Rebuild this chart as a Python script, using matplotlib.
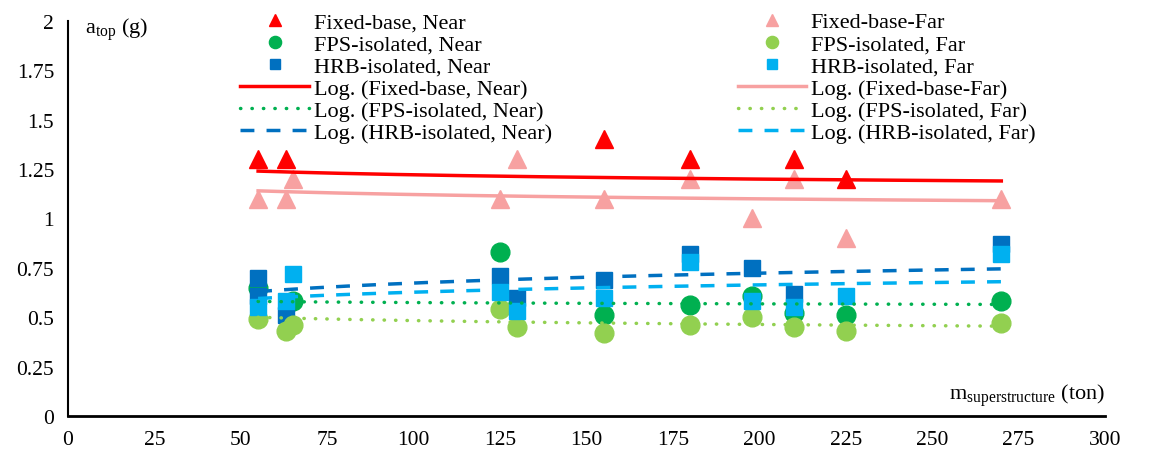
import numpy as np
import matplotlib
matplotlib.use("Agg")
import matplotlib.pyplot as plt

# --- data ---
mass_fixed_near = [55, 63, 155, 180, 210, 225]
acc_fixed_near = [1.30, 1.30, 1.40, 1.30, 1.30, 1.20]

mass_fps_near = [55, 65, 125, 155, 180, 198, 210, 225, 270]
acc_fps_near = [0.65, 0.58, 0.83, 0.51, 0.56, 0.61, 0.52, 0.51, 0.58]

mass_hrb_near = [55, 55, 63, 125, 130, 155, 180, 198, 210, 270]
acc_hrb_near = [0.70, 0.61, 0.51, 0.71, 0.60, 0.69, 0.82, 0.75, 0.62, 0.87]

mass_fixed_far = [55, 63, 65, 125, 130, 155, 180, 198, 210, 225, 270]
acc_fixed_far = [1.10, 1.10, 1.20, 1.10, 1.30, 1.10, 1.20, 1.00, 1.20, 0.90, 1.10]

mass_fps_far = [55, 63, 65, 125, 130, 155, 180, 198, 210, 225, 270]
acc_fps_far = [0.49, 0.43, 0.46, 0.54, 0.45, 0.42, 0.46, 0.50, 0.45, 0.43, 0.47]

mass_hrb_far = [55, 63, 65, 125, 130, 155, 180, 198, 210, 225, 270]
acc_hrb_far = [0.55, 0.58, 0.72, 0.63, 0.53, 0.60, 0.78, 0.58, 0.55, 0.61, 0.82]

# log trendlines: value at start mass and end mass
trend_start = 55
trend_end = 270
trend_fixed_near = [1.24, 1.19]
trend_fps_near = [0.58, 0.565]
trend_hrb_near = [0.63, 0.745]
trend_fixed_far = [1.14, 1.09]
trend_fps_far = [0.50, 0.455]
trend_hrb_far = [0.595, 0.68]

# colours (Excel palette)
c_red = "#ff0000"
c_pink = "#f7a1a1"
c_green = "#00b050"
c_lgreen = "#92d050"
c_blue = "#0070c0"
c_lblue = "#00b0f0"

plt.rcParams['font.family'] = ['Liberation Serif', 'DejaVu Serif']
plt.rcParams['mathtext.fontset'] = 'custom'
plt.rcParams['mathtext.rm'] = 'Liberation Serif'
plt.rcParams['mathtext.it'] = 'Liberation Serif'

fig = plt.figure(figsize=(11.56, 4.56), dpi=100)
ax = fig.add_axes([0.0588, 0.0855, 0.8971, 0.8663])


def log_trend(ends):
    # y = a + b ln(x) through the two read-off end values
    b = (ends[1] - ends[0]) / np.log(trend_end / trend_start)
    a = ends[0] - b * np.log(trend_start)
    xs = np.linspace(trend_start, trend_end, 200)
    return xs, a + b * np.log(xs)


# markers, in Excel series order
h1, = ax.plot(mass_fixed_near, acc_fixed_near, ls='none', marker='^', ms=13, color=c_red,
              label='Fixed-base, Near')
h2, = ax.plot(mass_fps_near, acc_fps_near, ls='none', marker='o', ms=13.5, color=c_green,
              label='FPS-isolated, Near')
h3, = ax.plot(mass_hrb_near, acc_hrb_near, ls='none', marker='s', ms=11.5, color=c_blue,
              label='HRB-isolated, Near')
h4, = ax.plot(mass_fixed_far, acc_fixed_far, ls='none', marker='^', ms=13, color=c_pink,
              label='Fixed-base-Far')
h5, = ax.plot(mass_fps_far, acc_fps_far, ls='none', marker='o', ms=13.5, color=c_lgreen,
              label='FPS-isolated, Far')
h6, = ax.plot(mass_hrb_far, acc_hrb_far, ls='none', marker='s', ms=11.5, color=c_lblue,
              label='HRB-isolated, Far')

# trendlines
xs, ys = log_trend(trend_fixed_near)
t1, = ax.plot(xs, ys, color=c_red, lw=2.5, label='Log. (Fixed-base, Near)')
xs, ys = log_trend(trend_fps_near)
t2, = ax.plot(xs, ys, color=c_green, lw=2.5, ls=(0, (0.1, 3.2)), dash_capstyle='round',
              label='Log. (FPS-isolated, Near)')
xs, ys = log_trend(trend_hrb_near)
t3, = ax.plot(xs, ys, color=c_blue, lw=2.5, ls=(0, (4, 3.5)), label='Log. (HRB-isolated, Near)')
xs, ys = log_trend(trend_fixed_far)
t4, = ax.plot(xs, ys, color=c_pink, lw=2.5, label='Log. (Fixed-base-Far)')
xs, ys = log_trend(trend_fps_far)
t5, = ax.plot(xs, ys, color=c_lgreen, lw=2.5, ls=(0, (0.1, 3.2)), dash_capstyle='round',
              label='Log. (FPS-isolated, Far)')
xs, ys = log_trend(trend_hrb_far)
t6, = ax.plot(xs, ys, color=c_lblue, lw=2.5, ls=(0, (4, 3.5)), label='Log. (HRB-isolated, Far)')

# axes
ax.set_xlim(0, 300)
ax.set_ylim(0, 2)
ax.set_xticks(np.arange(0, 301, 25))
ax.set_yticks([0, 0.25, 0.5, 0.75, 1, 1.25, 1.5, 1.75, 2])
ax.set_yticklabels(['0', '0.25', '0.5', '0.75', '1', '1.25', '1.5', '1.75', '2'])
ax.tick_params(length=0, labelsize=15.5, pad=10)
for s in ['top', 'right']:
    ax.spines[s].set_visible(False)
ax.spines['left'].set_linewidth(1.5)
ax.spines['bottom'].set_linewidth(2)

ax.text(5, 1.96, r'a$_{\mathrm{top}}$ (g)', fontsize=16, va='center', ha='left')
ax.text(300, 0.04, r'm$_{\mathrm{superstructure}}$ (ton)', fontsize=16, va='bottom', ha='right')

leg_kw = dict(frameon=False, fontsize=16, handlelength=3.1, handletextpad=0.2,
              labelspacing=0.07, markerscale=0.65, borderaxespad=0, borderpad=0)
leg1 = fig.legend(handles=[h1, h2, h3, t1, t2, t3], loc='upper left',
                  bbox_to_anchor=(0.208, 0.972), **leg_kw)
leg2 = fig.legend(handles=[h4, h5, h6, t4, t5, t6], loc='upper left',
                  bbox_to_anchor=(0.638, 0.972), **leg_kw)

fig.savefig('out.png', dpi=100)
